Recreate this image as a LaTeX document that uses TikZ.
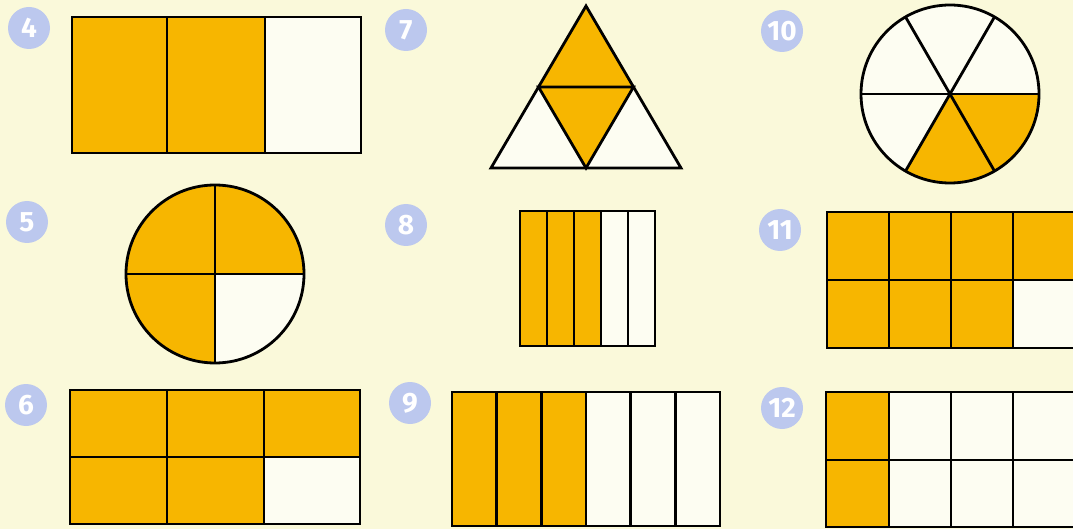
\documentclass[tikz,border=0pt]{standalone}
\usepackage{fontspec}
\setsansfont{Fira Sans}
\usetikzlibrary{calc}
\definecolor{paper}{RGB}{250,249,218}
\definecolor{gold}{RGB}{247,182,0}
\definecolor{blank}{RGB}{253,253,242}
\definecolor{badgeblue}{RGB}{188,200,238}

\begin{document}
\begin{tikzpicture}[x=1pt, y=-1pt, line width=2.8pt, line join=miter,
    badge/.style={circle, fill=badgeblue, minimum size=42pt, inner sep=0pt, text=white,
        font=\sffamily\bfseries\fontsize{28}{28}\selectfont}]
    % 배경 (그림 크기 고정)
    \clip (0,0) rectangle (1073,529);
    \fill[paper] (0,0) rectangle (1073,529);

    % 번호 배지
    \node[badge] (b4) at (29,28) {4};
    \node[badge] (b5) at (27,222) {5};
    \node[badge] (b6) at (26,405) {6};
    \node[badge] (b7) at (406,30) {7};
    \node[badge] (b8) at (406,225) {8};
    \node[badge] (b9) at (410,403) {9};
    \node[badge] (b10) at (782,31) {10};
    \node[badge] (b11) at (780,230) {11};
    \node[badge] (b12) at (782,408) {12};

    % 4: 세 칸 중 두 칸
    \fill[gold] (72,17) rectangle (265,153);
    \fill[blank] (265,17) rectangle (361,153);
    \draw (72,17) rectangle (361,153);
    \draw (167,17) -- (167,153) (265,17) -- (265,153);

    % 5: 원을 4등분 (오른쪽 아래만 흰색, y축이 뒤집혀 있어 각도 0..90)
    \coordinate (c5) at (215,274);
    \fill[gold] (c5) circle (89);
    \fill[blank] (c5) -- +(0:89) arc (0:90:89) -- cycle;
    \draw (c5) circle (89);
    \draw (c5) +(0:89) -- +(180:89) (c5) +(90:89) -- +(270:89);

    % 6: 2x3 격자, 오른쪽 아래만 흰색
    \fill[gold] (70,390) rectangle (360,524);
    \fill[blank] (264,457) rectangle (360,524);
    \draw (70,390) rectangle (360,524);
    \draw (167,390) -- (167,524) (264,390) -- (264,524) (70,457) -- (360,457);

    % 7: 정삼각형을 4등분
    \coordinate (t1) at (586,6);
    \coordinate (t2) at (491,168);
    \coordinate (t3) at (681,168);
    \coordinate (m12) at ($(t1)!0.5!(t2)$);
    \coordinate (m13) at ($(t1)!0.5!(t3)$);
    \coordinate (m23) at ($(t2)!0.5!(t3)$);
    \fill[blank] (t1) -- (t2) -- (t3) -- cycle;
    \fill[gold] (t1) -- (m12) -- (m23) -- (m13) -- cycle;
    \draw (t1) -- (t2) -- (t3) -- cycle;
    \draw (m12) -- (m13) -- (m23) -- cycle;

    % 8: 다섯 칸 중 세 칸
    \fill[gold] (520,211) rectangle (601,346);
    \fill[blank] (601,211) rectangle (655,346);
    \draw (520,211) rectangle (655,346);
    \foreach \x in {547,574,601,628}
        \draw (\x,211) -- (\x,346);

    % 9: 여섯 칸 중 세 칸
    \fill[gold] (452,392) rectangle (586,526);
    \fill[blank] (586,392) rectangle (720,526);
    \draw (452,392) rectangle (720,526);
    \foreach \x in {496.7,541.3,586,630.7,675.3}
        \draw (\x,392) -- (\x,526);

    % 10: 원을 6등분 (오른쪽 아래 두 칸)
    \coordinate (c10) at (950,94);
    \fill[blank] (c10) circle (89);
    \fill[gold] (c10) -- +(0:89) arc (0:120:89) -- cycle;
    \draw (c10) circle (89);
    \foreach \a in {0,60,120}
        \draw (c10) +(\a:89) -- +(\a+180:89);

    % 11: 2x4 격자, 오른쪽 아래만 흰색
    \fill[gold] (827,212) rectangle (1077,348);
    \fill[blank] (1013,280) rectangle (1077,348);
    \draw (827,212) rectangle (1077,348);
    \foreach \x in {889,951,1013}
        \draw (\x,212) -- (\x,348);
    \draw (827,280) -- (1077,280);

    % 12: 2x4 격자, 첫 열만 색칠
    \fill[blank] (826,392) rectangle (1077,527);
    \fill[gold] (826,392) rectangle (889,527);
    \draw (826,392) rectangle (1077,527);
    \foreach \x in {889,951,1013}
        \draw (\x,392) -- (\x,527);
    \draw (826,460) -- (1077,460);
\end{tikzpicture}
\end{document}
